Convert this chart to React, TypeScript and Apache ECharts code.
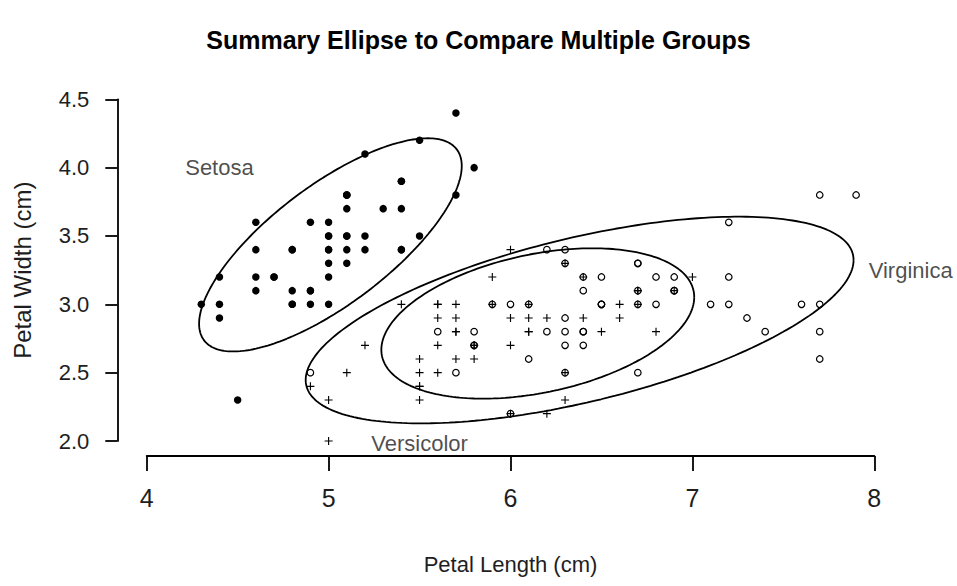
import React, { useEffect, useRef } from "react";
import * as echarts from "echarts";

// Iris sepal measurements as plotted (axis titles as in the original)
const setosaX = [5.1,4.9,4.7,4.6,5.0,5.4,4.6,5.0,4.4,4.9,5.4,4.8,4.8,4.3,5.8,5.7,5.4,5.1,5.7,5.1,5.4,5.1,4.6,5.1,4.8,5.0,5.0,5.2,5.2,4.7,4.8,5.4,5.2,5.5,4.9,5.0,5.5,4.9,4.4,5.1,5.0,4.5,4.4,5.0,5.1,4.8,5.1,4.6,5.3,5.0];
const setosaY = [3.5,3.0,3.2,3.1,3.6,3.9,3.4,3.4,2.9,3.1,3.7,3.4,3.0,3.0,4.0,4.4,3.9,3.5,3.8,3.8,3.4,3.7,3.6,3.3,3.4,3.0,3.4,3.5,3.4,3.2,3.1,3.4,4.1,4.2,3.1,3.2,3.5,3.6,3.0,3.4,3.5,2.3,3.2,3.5,3.8,3.0,3.8,3.2,3.7,3.3];
const versicolorX = [7.0,6.4,6.9,5.5,6.5,5.7,6.3,4.9,6.6,5.2,5.0,5.9,6.0,6.1,5.6,6.7,5.6,5.8,6.2,5.6,5.9,6.1,6.3,6.1,6.4,6.6,6.8,6.7,6.0,5.7,5.5,5.5,5.8,6.0,5.4,6.0,6.7,6.3,5.6,5.5,5.5,6.1,5.8,5.0,5.6,5.7,5.7,6.2,5.1,5.7];
const versicolorY = [3.2,3.2,3.1,2.3,2.8,2.8,3.3,2.4,2.9,2.7,2.0,3.0,2.2,2.9,2.9,3.1,3.0,2.7,2.2,2.5,3.2,2.8,2.5,2.8,2.9,3.0,2.8,3.0,2.9,2.6,2.4,2.4,2.7,2.7,3.0,3.4,3.1,2.3,3.0,2.5,2.6,3.0,2.6,2.3,2.7,3.0,2.9,2.9,2.5,2.8];
const virginicaX = [6.3,5.8,7.1,6.3,6.5,7.6,4.9,7.3,6.7,7.2,6.5,6.4,6.8,5.7,5.8,6.4,6.5,7.7,7.7,6.0,6.9,5.6,7.7,6.3,6.7,7.2,6.2,6.1,6.4,7.2,7.4,7.9,6.4,6.3,6.1,7.7,6.3,6.4,6.0,6.9,6.7,6.9,5.8,6.8,6.7,6.7,6.3,6.5,6.2,5.9];
const virginicaY = [3.3,2.7,3.0,2.9,3.0,3.0,2.5,2.9,2.5,3.6,3.2,2.7,3.0,2.5,2.8,3.2,3.0,3.8,2.6,2.2,3.2,2.8,2.8,2.7,3.3,3.2,2.8,3.0,2.8,3.0,2.8,3.8,2.8,2.8,2.6,3.0,3.4,3.1,3.0,3.1,3.1,3.1,2.7,3.2,3.3,3.0,2.5,3.0,3.4,3.0];

// Summary ellipses (data units): centre, half-extent in x and y, correlation
const ellipseCenterX = [5.01, 6.15, 6.38];
const ellipseCenterY = [3.435, 2.86, 2.885];
const ellipseHalfX = [0.722, 0.86, 1.506];
const ellipseHalfY = [0.78, 0.55, 0.756];
const ellipseCorr = [0.74, 0.35, 0.58];

// Group labels
const labelNames = ["Setosa", "Versicolor", "Virginica"];
const labelX = [4.4, 5.5, 8.2];
const labelY = [4.0, 1.98, 3.25];

// Axis ticks
const xMin = 4, xMax = 8, xStep = 1;
const yMin = 2.0, yMax = 4.5, yStep = 0.5;

const FONT = "'Liberation Sans', Arial, sans-serif";
const INK = "#000";
const TXT = "#1e1e1e";

function zip(xs: number[], ys: number[]) {
  return xs.map((x, i) => [x, ys[i]]);
}

function ellipsePoints(i: number) {
  const d = Math.acos(ellipseCorr[i]);
  const pts: number[][] = [];
  const n = 240;
  for (let k = 0; k <= n; k++) {
    const t = (k / n) * Math.PI * 2;
    pts.push([
      ellipseCenterX[i] + ellipseHalfX[i] * Math.cos(t),
      ellipseCenterY[i] + ellipseHalfY[i] * Math.cos(t - d),
    ]);
  }
  return pts;
}

const PLUS = "path://M4.3,0H5.7V4.3H10V5.7H5.7V10H4.3V5.7H0V4.3H4.3Z";

export default function App() {
  const ref = useRef<HTMLDivElement>(null);
  useEffect(() => {
    if (!ref.current) return;
    const chart = echarts.init(ref.current, null, { renderer: "svg" });
    const ellipseSeries = [0, 1, 2].map((i) => ({
      type: "line",
      data: ellipsePoints(i),
      showSymbol: false,
      symbol: "none",
      clip: false,
      lineStyle: { color: INK, width: 1.8 },
      z: 3,
      silent: true,
    }));
    chart.setOption({
      animation: false,
      backgroundColor: "#fff",
      title: {
        text: "Summary Ellipse to Compare Multiple Groups",
        left: "center",
        top: 22,
        textStyle: { fontFamily: FONT, fontSize: 25, fontWeight: "bold", color: "#000" },
      },
      grid: { left: 146.7, right: 82.7, top: 99.3, bottom: 145, containLabel: false },
      xAxis: {
        type: "value",
        min: xMin,
        max: xMax,
        interval: xStep,
        offset: 15,
        name: "Petal Length (cm)",
        nameLocation: "middle",
        nameGap: 97,
        nameTextStyle: { fontFamily: FONT, fontSize: 22, color: TXT },
        axisLine: { show: true, lineStyle: { color: INK, width: 1.8 } },
        axisTick: { show: true, length: 15, lineStyle: { color: INK, width: 1.8 } },
        axisLabel: { margin: 29, fontFamily: FONT, fontSize: 25, color: TXT },
        splitLine: { show: false },
      },
      yAxis: {
        type: "value",
        min: yMin,
        max: yMax,
        interval: yStep,
        offset: 29.4,
        name: "Petal Width (cm)",
        nameLocation: "middle",
        nameRotate: 90,
        nameGap: 83,
        nameTextStyle: { fontFamily: FONT, fontSize: 24, color: TXT },
        axisLine: { show: true, lineStyle: { color: INK, width: 1.8 } },
        axisTick: { show: true, length: 12, lineStyle: { color: INK, width: 1.8 } },
        axisLabel: {
          margin: 28,
          fontFamily: FONT,
          fontSize: 22,
          color: TXT,
          formatter: (v: number) => v.toFixed(1),
        },
        splitLine: { show: false },
      },
      series: [
        {
          name: "Setosa",
          type: "scatter",
          data: zip(setosaX, setosaY),
          symbol: "circle",
          symbolSize: 7.5,
          clip: false,
          itemStyle: { color: INK, opacity: 1 },
          emphasis: { disabled: true },
          z: 2,
        },
        {
          name: "Versicolor",
          type: "scatter",
          data: zip(versicolorX, versicolorY),
          symbol: PLUS,
          symbolSize: 8,
          clip: false,
          itemStyle: { color: INK, opacity: 1 },
          emphasis: { disabled: true },
          z: 2,
        },
        {
          name: "Virginica",
          type: "scatter",
          data: zip(virginicaX, virginicaY),
          symbol: "circle",
          symbolSize: 6.5,
          clip: false,
          itemStyle: { color: "rgba(0,0,0,0)", borderColor: INK, borderWidth: 1.2, opacity: 1 },
          emphasis: { disabled: true },
          z: 2,
        },
        ...ellipseSeries,
        {
          name: "labels",
          type: "scatter",
          data: labelNames.map((n, i) => ({ value: [labelX[i], labelY[i]], name: n })),
          symbolSize: 1,
          clip: false,
          itemStyle: { color: "rgba(0,0,0,0)" },
          label: {
            show: true,
            position: "inside",
            formatter: (p: any) => p.name,
            fontFamily: FONT,
            fontSize: 22,
            color: TXT,
          },
          z: 4,
          silent: true,
        },
      ],
    });
    return () => chart.dispose();
  }, []);
  return (
    <div
      ref={ref}
      style={{ position: "fixed", left: 0, top: 0, width: 957, height: 586, background: "#fff" }}
    />
  );
}
